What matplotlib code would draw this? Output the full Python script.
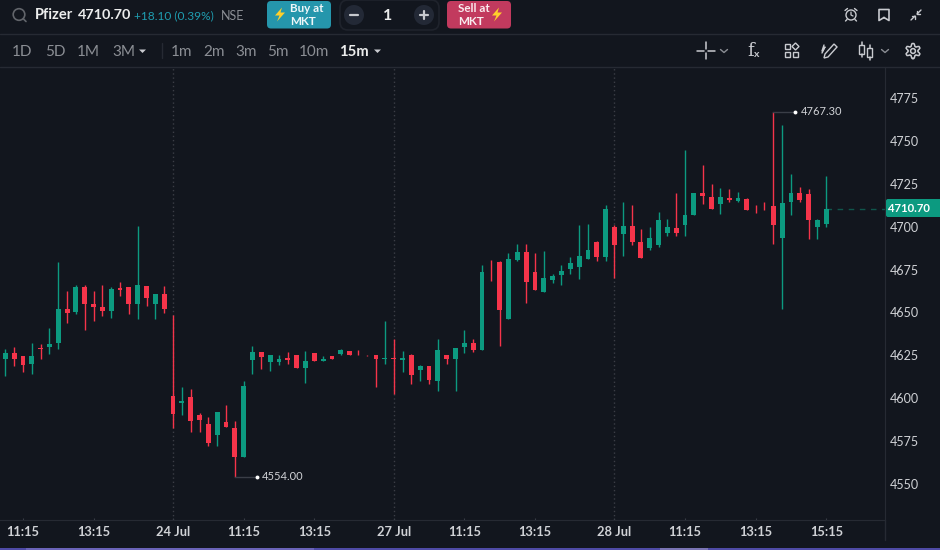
import numpy as np
import matplotlib
matplotlib.use("Agg")
import matplotlib.pyplot as plt
from matplotlib.patches import Circle, FancyBboxPatch, Polygon, Rectangle

plt.rcParams['font.family'] = ['Lato', 'DejaVu Sans']

# --- candle data (15m) ---
opens = [4622.9, 4626.5, 4624.7, 4620.0, 4629.4, 4630.0, 4632.3, 4652.2, 4650.4, 4665.0,
         4655.1, 4653.3, 4651.0, 4664.4, 4665.0, 4655.1, 4665.6, 4655.1, 4660.9, 4601.3,
         4597.2, 4600.7, 4590.2, 4585.0, 4578.5, 4586.1, 4582.6, 4565.7, 4622.4, 4627.0,
         4621.2, 4621.2, 4623.5, 4625.3, 4617.7, 4626.5, 4621.8, 4624.7, 4625.9, 4627.6,
         4625.3, 4625.1, 4625.3, 4622.9, 4623.5, 4622.4, 4625.3, 4616.5, 4618.9, 4610.1,
         4625.3, 4622.9, 4630.0, 4632.3, 4628.2, 4673.8, 4679.6, 4646.3, 4680.8, 4685.5,
         4673.8, 4662.1, 4669.1, 4672.0, 4675.5, 4676.7, 4681.4, 4691.3, 4682.6, 4700.1,
         4696.0, 4700.7, 4691.3, 4687.8, 4689.6, 4696.6, 4699.5, 4701.3, 4707.1, 4720.0,
         4717.6, 4713.5, 4717.0, 4715.3, 4716.5, 4710.0, 4710.0, 4712.4, 4693.7, 4714.7,
         4720.0, 4719.4, 4700.1, 4701.8]
highs = [4628.8, 4630.0, 4624.7, 4632.3, 4631.7, 4641.1, 4679.6, 4662.7, 4666.2, 4666.2,
         4662.7, 4666.2, 4665.0, 4667.9, 4665.0, 4700.7, 4665.6, 4660.9, 4665.6, 4648.7,
         4606.6, 4605.4, 4591.4, 4589.1, 4592.0, 4596.1, 4586.7, 4610.1, 4630.5, 4627.0,
         4625.3, 4625.3, 4627.0, 4625.3, 4627.6, 4626.5, 4624.7, 4624.7, 4628.8, 4627.6,
         4628.2, 4625.3, 4625.3, 4645.2, 4634.6, 4627.6, 4625.9, 4619.4, 4618.9, 4634.6,
         4625.3, 4629.4, 4639.9, 4634.6, 4677.9, 4680.8, 4680.2, 4684.9, 4690.2, 4690.2,
         4684.9, 4686.1, 4672.6, 4677.9, 4682.6, 4701.3, 4701.8, 4691.9, 4713.0, 4701.3,
         4714.7, 4713.0, 4698.9, 4700.1, 4708.9, 4704.8, 4720.0, 4745.1, 4720.0, 4736.3,
         4725.2, 4722.9, 4722.3, 4720.5, 4717.0, 4713.0, 4714.7, 4767.3, 4759.7, 4731.1,
         4723.5, 4722.3, 4704.8, 4729.9]
lows = [4613.0, 4618.9, 4615.4, 4614.2, 4622.9, 4625.9, 4628.8, 4644.0, 4649.3, 4639.9,
        4645.2, 4648.1, 4646.9, 4659.8, 4649.3, 4646.3, 4653.9, 4646.3, 4649.8, 4582.6,
        4590.2, 4580.3, 4580.3, 4572.1, 4572.1, 4583.2, 4554.0, 4565.7, 4614.2, 4617.1,
        4615.9, 4619.4, 4620.0, 4617.7, 4608.9, 4621.8, 4621.8, 4622.9, 4625.3, 4625.3,
        4624.9, 4624.7, 4606.6, 4620.0, 4602.5, 4615.4, 4608.3, 4610.1, 4608.3, 4604.3,
        4620.0, 4604.3, 4626.5, 4627.0, 4628.2, 4668.5, 4630.5, 4646.3, 4680.2, 4655.7,
        4663.3, 4662.1, 4667.4, 4666.2, 4672.6, 4669.7, 4681.4, 4680.2, 4680.2, 4670.3,
        4683.1, 4689.6, 4682.0, 4686.7, 4688.4, 4694.8, 4694.8, 4694.8, 4707.1, 4713.5,
        4710.6, 4707.7, 4714.7, 4714.7, 4710.0, 4708.3, 4709.6, 4690.2, 4652.2, 4707.1,
        4714.7, 4693.1, 4693.1, 4700.1]
closes = [4626.5, 4622.9, 4619.4, 4624.7, 4628.8, 4631.7, 4652.2, 4649.8, 4665.0, 4655.1,
          4653.3, 4651.0, 4663.9, 4663.3, 4655.1, 4666.2, 4658.6, 4660.9, 4652.2, 4590.8,
          4598.4, 4586.7, 4587.3, 4573.9, 4592.0, 4583.2, 4565.7, 4607.2, 4627.0, 4624.1,
          4625.3, 4622.9, 4622.4, 4617.7, 4621.8, 4621.8, 4622.9, 4622.9, 4628.2, 4625.3,
          4624.9, 4624.9, 4622.9, 4623.5, 4622.9, 4623.5, 4613.6, 4618.9, 4610.7, 4628.2,
          4622.9, 4629.4, 4632.3, 4628.2, 4673.8, 4673.4, 4651.6, 4681.4, 4685.5, 4667.9,
          4663.3, 4670.3, 4671.4, 4674.4, 4679.1, 4683.1, 4686.7, 4682.6, 4710.6, 4689.6,
          4700.7, 4691.3, 4682.0, 4693.7, 4704.2, 4700.1, 4696.6, 4707.1, 4720.0, 4718.2,
          4710.6, 4717.6, 4715.9, 4717.0, 4710.0, 4709.6, 4709.6, 4701.3, 4714.1, 4720.0,
          4715.9, 4704.2, 4704.2, 4710.7]

price_ticks = [4550, 4575, 4600, 4625, 4650, 4675, 4700, 4725, 4750, 4775]
time_ticks = [2, 10, 19, 27, 35, 44, 52, 60, 69, 77, 85, 93]
time_labels = ["11:15", "13:15", "24 Jul", "11:15", "13:15", "27 Jul", "11:15", "13:15", "28 Jul", "11:15", "13:15", "15:15"]
day_starts = [19, 44, 69]
last_price = 4710.70
high_mark = (87, 4767.30)
low_mark = (26, 4554.00)

# --- colours ---
BG = "#12161e"
LINE = "#262a33"
GREEN = "#0c9a80"
RED = "#f5344a"
AXIS_TXT = "#d0d2d6"
GREY_TXT = "#8b8e94"
ICON = "#c9cbd0"

fig = plt.figure(figsize=(9.4, 5.5), dpi=100, facecolor=BG)

# --- chart ---
ax = fig.add_axes([0, 30 / 550, 885 / 940, 453 / 550], facecolor=BG)
x = np.arange(len(opens))
o = np.array(opens)
c = np.array(closes)
cols = [GREEN if b >= a else RED for a, b in zip(opens, closes)]

for d in day_starts:
    ax.axvline(d, color="#3b3e46", lw=1, linestyle=(0, (1, 2)), zorder=1)
ax.vlines(x, lows, highs, colors=cols, lw=1, zorder=2)
ax.bar(x, np.abs(c - o), bottom=np.minimum(o, c), width=0.55, color=cols, linewidth=0, zorder=3)
ax.hlines(last_price, x[-1], 99.65, colors="#10564c", lw=1, linestyle=(0, (4, 4)), zorder=1)

for idx, val, txt in [(high_mark[0], high_mark[1], "4767.30"), (low_mark[0], low_mark[1], "4554.00")]:
    ax.plot([idx, idx + 2.5], [val, val], color="#3a3e47", lw=1, zorder=2)
    ax.plot([idx + 2.5], [val], "o", ms=2.8, color="white", mew=0, zorder=4)
    ax.annotate(txt, (idx + 2.5, val), xytext=(5, 0), textcoords="offset pixels", va="center",
                color=AXIS_TXT, fontsize=8, annotation_clip=False)

ax.set_xlim(-0.6, 99.65)
ax.set_ylim(4528.7, 4793.4)
ax.yaxis.tick_right()
ax.set_yticks(price_ticks)
ax.set_xticks(time_ticks)
ax.set_xticklabels(time_labels, fontsize=9.3, fontweight="bold", color=AXIS_TXT)
ax.tick_params(axis="y", length=0, pad=3.5, labelsize=9, labelcolor=AXIS_TXT)
ax.tick_params(axis="x", length=1.5, direction="in", pad=4.5, color="#3a3e47")
for s in ["top", "left"]:
    ax.spines[s].set_visible(False)
ax.spines["right"].set_color(LINE)
ax.spines["bottom"].set_color(LINE)

# --- toolbar and overlays, in pixel coordinates ---
ui = fig.add_axes([0, 0, 1, 1], facecolor="none")
ui.set_xlim(0, 940)
ui.set_ylim(550, 0)
ui.axis("off")


def line(xs, ys, col=ICON, lw=1.1):
    ui.plot(xs, ys, color=col, lw=lw, solid_capstyle="round")


def box(x0, y0, w, h, col, edge="none", rad=4):
    ui.add_patch(FancyBboxPatch((x0 + rad, y0 + rad), w - 2 * rad, h - 2 * rad,
                                boxstyle=f"round,pad={rad},rounding_size={rad}",
                                fc=col, ec=edge, lw=1.2))


def bolt(cx, cy):
    pts = np.array([[2, -7], [-5, 1], [-0.5, 1], [-3, 7], [5, -2], [0.5, -2]])
    ui.add_patch(Polygon(pts + [cx, cy], fc="#ffd02b", ec="none"))


def label(px, py, s, col=GREY_TXT, size=11, weight="normal", ha="left"):
    ui.text(px, py, s, color=col, fontsize=size, fontweight=weight, ha=ha, va="center")


line([0, 940], [34, 34], LINE, 1)
line([0, 940], [66.5, 66.5], LINE, 1)
line([885, 885], [520, 540], LINE, 1)

# bottom scrollbar strip
ui.add_patch(Rectangle((0, 548), 940, 2, fc="#4e4aa6", ec="none"))
ui.add_patch(Rectangle((26, 548), 288, 2, fc="#6a63b8", ec="none"))
ui.add_patch(Rectangle((660, 548), 48, 2, fc="#7a74b4", ec="none"))

# symbol row
ui.add_patch(Circle((19, 14.5), 5.8, fc="none", ec="#62656b", lw=1.2))
line([23.3, 26], [18.8, 21.5], "#62656b", 1.2)
label(35, 15, "Pfizer", "#eceded", 10.5, "bold")
label(78, 15, "4710.70", "#eceded", 10.4, "bold")
label(134, 16, "+18.10 (0.39%)", "#1f9db0", 8.6)
label(221, 16, "NSE", GREY_TXT, 9)

box(267, 1, 64, 27.5, "#2596ac")
bolt(280, 14.5)
label(290, 8.5, "Buy at", "#eef6f8", 8.4, "bold")
label(290, 21.5, "MKT", "#eef6f8", 8.4, "bold")

box(340, 0, 99, 30, BG, edge="#1f232c", rad=8)
ui.add_patch(Circle((354, 15), 10, fc="#232936", ec="none"))
ui.add_patch(Circle((424, 15), 10, fc="#232936", ec="none"))
line([350, 358], [15, 15], "#c7c9ce", 1.6)
line([420, 428], [15, 15], "#c7c9ce", 1.6)
line([424, 424], [11, 19], "#c7c9ce", 1.6)
label(388, 16, "1", "#eceded", 11.5, "bold", ha="center")

box(447, 1, 64, 27.5, "#c23a5e")
bolt(497, 14.5)
label(458, 8.5, "Sell at", "#f9ecef", 8.4, "bold")
label(458, 21.5, "MKT", "#f9ecef", 8.4, "bold")

# right icons on the symbol row
ui.add_patch(Circle((851, 15), 5, fc="none", ec=ICON, lw=1))
line([851, 851, 853], [12, 15, 16], ICON, 0.9)
line([845, 847.5], [10.5, 8.5], ICON, 1)
line([857, 854.5], [10.5, 8.5], ICON, 1)
line([847, 845.5], [19.5, 21], ICON, 1)
line([855, 856.5], [19.5, 21], ICON, 1)
line([884, 879, 879, 889, 889, 884], [17.5, 20.5, 9.5, 9.5, 20.5, 17.5], ICON, 1.2)
line([911, 915], [20, 16], ICON, 1)
line([912, 915, 915], [16, 16, 19], ICON, 1)
line([921, 917], [10, 14], ICON, 1)
line([917, 917, 920], [11, 14, 14], ICON, 1)

# timeframe row
for px, s in [(12, "1D"), (45, "5D"), (77, "1M"), (112, "3M"), (171, "1m"), (203, "2m"), (235, "3m"), (267, "5m"), (299, "10m")]:
    label(px, 51.5, s)
label(339, 51.5, "15m", "#eceded", 10.7, "bold")
for cx in [142.5, 377.5]:
    ui.add_patch(Polygon([[cx - 3.5, 49.5], [cx + 3.5, 49.5], [cx, 53]], fc="#c9cbd0", ec="none"))
line([161.5, 161.5], [43, 58], LINE, 1)

# tool icons
line([697, 704], [51, 51]); line([708, 715], [51, 51])
line([706, 706], [42, 49]); line([706, 706], [53, 59])
for cx in [724, 885]:
    line([cx - 3.5, cx, cx + 3.5], [49.5, 52.5, 49.5], "#8b8e94", 1)
ui.text(751, 50.5, "f", color=ICON, fontsize=13, family="DejaVu Serif", ha="center", va="center")
ui.text(757, 54.5, "x", color=ICON, fontsize=7.5, fontweight="bold", ha="center", va="center")
ui.add_patch(Rectangle((785, 44), 5, 5, fc="none", ec=ICON, lw=1))
ui.add_patch(Rectangle((785, 52), 5, 5, fc="none", ec=ICON, lw=1))
ui.add_patch(Rectangle((793, 52), 5, 5, fc="none", ec=ICON, lw=1))
ui.add_patch(Polygon([[795.5, 43], [799, 46.5], [795.5, 50], [792, 46.5]], fc="none", ec=ICON, lw=1))
ui.add_patch(Polygon([[834, 44], [837, 47], [828, 57], [824, 58], [825, 54]], fc="none", ec=ICON, lw=1))
line([822, 825, 822, 824], [53, 47, 51, 45], ICON, 1)
ui.add_patch(Rectangle((859, 45), 5, 9, fc="none", ec=ICON, lw=1))
ui.add_patch(Rectangle((867, 48), 5, 9, fc="none", ec=ICON, lw=1))
line([861.5, 861.5], [42, 45]); line([861.5, 861.5], [54, 57])
line([869.5, 869.5], [45, 48]); line([869.5, 869.5], [57, 60])
ang = np.linspace(0, 2 * np.pi, 49)
rad = 6.2 + 1.3 * np.clip(2.2 * np.cos(6 * ang), -1, 1)
ui.plot(913 + rad * np.sin(ang), 51 + rad * np.cos(ang), color=ICON, lw=1.1)
ui.add_patch(Circle((913, 51), 2.4, fc="none", ec=ICON, lw=1.1))

# last price tag
ui.add_patch(FancyBboxPatch((888, 201), 60, 14, boxstyle="round,pad=2,rounding_size=2", fc=GREEN, ec="none"))
label(887.5, 208.5, "4710.70", "white", 8.2, "bold")

fig.savefig("out.png", dpi=100, facecolor=BG)
